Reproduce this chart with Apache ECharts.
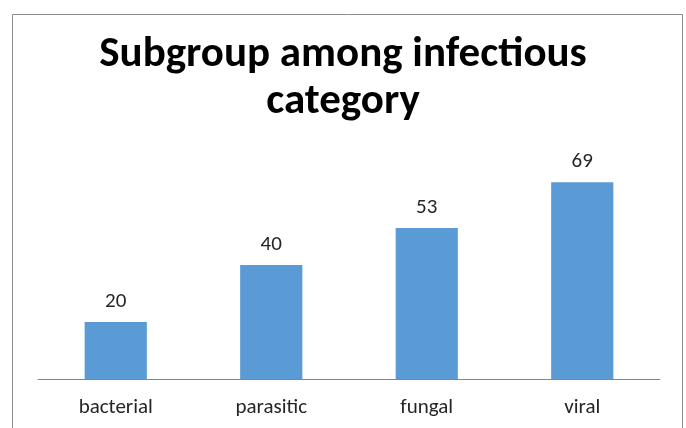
<!DOCTYPE html>
<html>
<head>
<meta charset="utf-8">
<script src="https://cdn.jsdelivr.net/npm/echarts@6/dist/echarts.min.js"></script>
<style>
html,body{margin:0;padding:0;background:#fff;}
#chart{width:686px;height:428px;}
</style>
</head>
<body>
<div id="chart"></div>
<script>
const categories = ['bacterial', 'parasitic', 'fungal', 'viral'];
const values = [20, 40, 53, 69];
const titleText = 'Subgroup among infectious\ncategory';

const chart = echarts.init(document.getElementById('chart'), null, {renderer: 'canvas'});
chart.setOption({
  animation: false,
  backgroundColor: '#ffffff',
  graphic: [{
    type: 'rect',
    shape: {x: 12.5, y: 14.5, width: 670, height: 430},
    style: {fill: 'none', stroke: '#8c8c8c', lineWidth: 1},
    silent: true
  }],
  title: {
    text: titleText,
    left: 'center',
    top: 27,
    padding: [5, 0, 5, 22],
    textStyle: {
      fontFamily: 'Carlito, Lato, sans-serif',
      fontWeight: 'bold',
      fontSize: 43,
      lineHeight: 47,
      color: '#000000'
    }
  },
  grid: {left: 38, right: 26, top: 151, bottom: 49, containLabel: false},
  xAxis: {
    type: 'category',
    data: categories,
    axisLine: {lineStyle: {color: '#868686', width: 1}},
    axisTick: {show: false},
    axisLabel: {
      fontFamily: 'Carlito, "Open Sans", sans-serif',
      fontSize: 21,
      color: '#262626',
      margin: 18
    }
  },
  yAxis: {
    type: 'value',
    min: 0,
    max: 80,
    show: false,
    splitLine: {show: false}
  },
  series: [{
    type: 'bar',
    data: values,
    barWidth: '40%',
    itemStyle: {color: '#5B9BD5'},
    label: {
      show: true,
      position: 'top',
      distance: 10,
      fontFamily: 'Carlito, "Open Sans", sans-serif',
      fontSize: 21,
      color: '#262626'
    }
  }]
});
</script>
</body>
</html>
